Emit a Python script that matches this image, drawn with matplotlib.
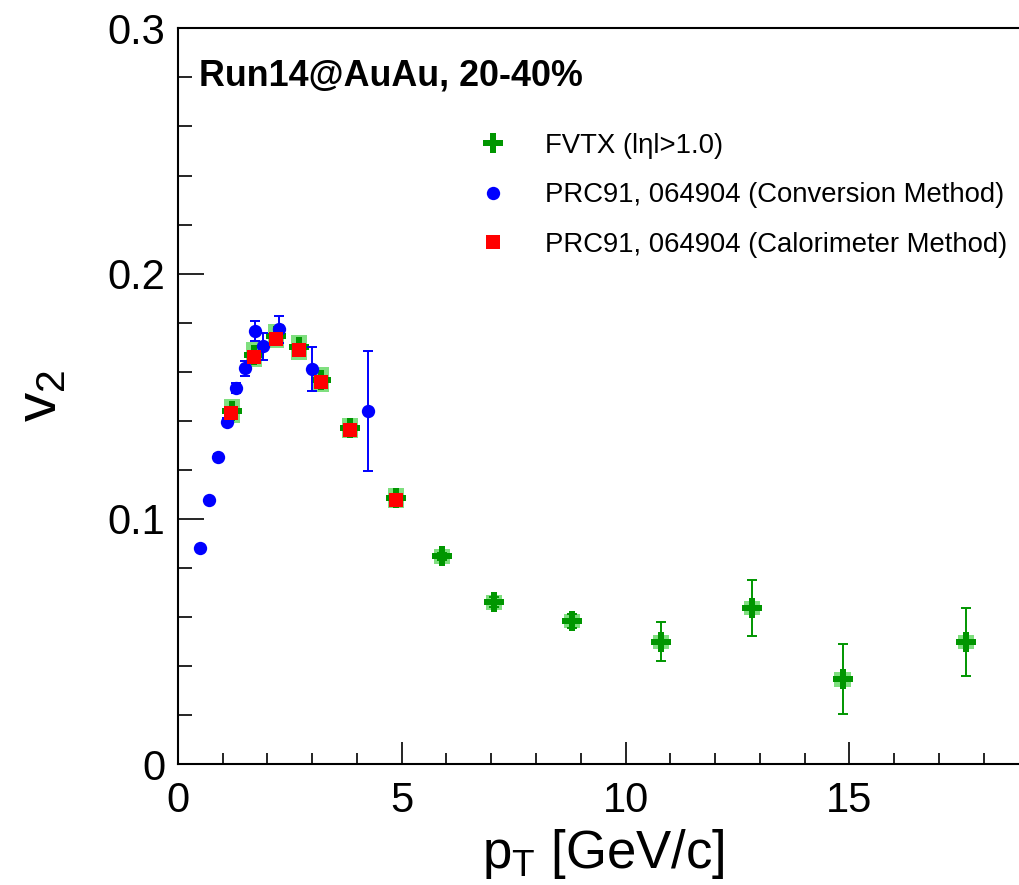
import matplotlib
matplotlib.use("Agg")
import matplotlib.pyplot as plt
from matplotlib.patches import Rectangle
from matplotlib.lines import Line2D
from matplotlib.ticker import MultipleLocator, FixedFormatter, FixedLocator

# FVTX (|eta|>1.0) v2 vs pT
fvtx_pt = [1.20, 1.70, 2.20, 2.70, 3.20, 3.85, 4.88, 5.90, 7.07, 8.80, 10.80, 12.82, 14.85, 17.60]
fvtx_v2 = [0.1440, 0.1670, 0.1745, 0.1700, 0.1568, 0.1370, 0.1085, 0.0848, 0.0660, 0.0584,
           0.0499, 0.0637, 0.0347, 0.0499]
fvtx_stat = [0.001, 0.001, 0.001, 0.001, 0.001, 0.001, 0.001, 0.0015, 0.002, 0.003,
             0.008, 0.0113, 0.0144, 0.0138]
fvtx_sys = [0.005, 0.005, 0.005, 0.005, 0.005, 0.004, 0.004, 0.003, 0.003, 0.003,
            0.003, 0.003, 0.003, 0.003]

# PRC91, 064904 - conversion method
conv_pt = [0.50, 0.70, 0.90, 1.10, 1.30, 1.50, 1.71, 1.91, 2.26, 3.00, 4.25]
conv_v2 = [0.0881, 0.1077, 0.1254, 0.1397, 0.1533, 0.1614, 0.1766, 0.1705, 0.1773, 0.1610, 0.1441]
conv_err = [0.001, 0.001, 0.001, 0.0015, 0.002, 0.003, 0.004, 0.0055, 0.0056, 0.009, 0.0245]

# PRC91, 064904 - calorimeter method
calo_pt = [1.18, 1.70, 2.20, 2.70, 3.20, 3.85, 4.88]
calo_v2 = [0.1433, 0.1659, 0.1734, 0.1689, 0.1557, 0.1363, 0.1077]

x_ticks = [0, 5, 10, 15]
x_labels = ["0", "5", "10", "15"]
y_ticks = [0, 0.1, 0.2, 0.3]
y_labels = ["0", "0.1", "0.2", "0.3"]

GREEN = "#009600"
GREEN_SYS = "#7fdf7f"
BLUE = "#0000ff"
RED = "#ff0000"
FONT = ["Liberation Sans", "DejaVu Sans"]

plt.rcParams["font.family"] = FONT

fig = plt.figure(figsize=(10.2, 8.85), dpi=100)
ax = fig.add_axes([0.1745, 0.1364, 0.8336, 0.8316])
ax.set_xlim(0, 19)
ax.set_ylim(0, 0.3)

# systematic boxes for FVTX
box_w = 0.36
for x, y, s in zip(fvtx_pt, fvtx_v2, fvtx_sys):
    ax.add_patch(Rectangle((x - box_w / 2, y - s), box_w, 2 * s,
                           facecolor=GREEN_SYS, edgecolor="none", zorder=2))

# statistical error bars (with caps), then the markers on top
ax.errorbar(fvtx_pt, fvtx_v2, yerr=fvtx_stat, fmt="none", ecolor=GREEN,
            elinewidth=1.4, capsize=3.5, capthick=1.4, zorder=3)
ax.plot(fvtx_pt, fvtx_v2, "P", color=GREEN, ms=15, mew=0, ls="none", zorder=3.1)

ax.errorbar(conv_pt, conv_v2, yerr=conv_err, fmt="none", ecolor=BLUE,
            elinewidth=1.4, capsize=3.5, capthick=1.4, zorder=4)
ax.plot(conv_pt, conv_v2, "o", color=BLUE, ms=9.6, mew=0, ls="none", zorder=4.1)

ax.plot(calo_pt, calo_v2, "s", color=RED, ms=10.4, mew=0, ls="none", zorder=5)

# axes styling
for side in ["left", "bottom", "top"]:
    ax.spines[side].set_linewidth(1.5)
ax.spines["right"].set_visible(False)

ax.xaxis.set_major_locator(FixedLocator(x_ticks))
ax.xaxis.set_major_formatter(FixedFormatter(x_labels))
ax.xaxis.set_minor_locator(MultipleLocator(1))
ax.yaxis.set_major_locator(FixedLocator(y_ticks))
ax.yaxis.set_major_formatter(FixedFormatter(y_labels))
ax.yaxis.set_minor_locator(MultipleLocator(0.02))

ax.tick_params(axis="x", which="major", direction="in", length=16, width=1.2,
               labelsize=30, pad=12, top=False)
ax.tick_params(axis="x", which="minor", direction="in", length=8, width=1.2, top=False)
ax.tick_params(axis="y", which="major", direction="in", length=19, width=1.2,
               labelsize=30, pad=9, right=False)
ax.tick_params(axis="y", which="minor", direction="in", length=10, width=1.2, right=False)

ax.set_xlabel(r"p$_\mathregular{T}$ [GeV/c]", fontsize=38, labelpad=4)
ax.set_ylabel(r"v$_\mathregular{2}$", fontsize=42, labelpad=28)

ax.text(0.025, 0.935, "Run14@AuAu, 20-40%", transform=ax.transAxes,
        fontsize=25.8, fontweight="bold", va="center", ha="left")

handles = [
    Line2D([], [], marker="P", color=GREEN, ls="none", ms=15, mew=0),
    Line2D([], [], marker="o", color=BLUE, ls="none", ms=9.6, mew=0),
    Line2D([], [], marker="s", color=RED, ls="none", ms=10.4, mew=0),
]
labels = ["FVTX (l\u03b7l>1.0)",
          "PRC91, 064904 (Conversion Method)",
          "PRC91, 064904 (Calorimeter Method)"]
ax.legend(handles, labels, loc="upper left", bbox_to_anchor=(0.338, 0.858),
          frameon=False, fontsize=19.8, handlelength=2.0, handletextpad=0.9,
          labelspacing=0.85, borderaxespad=0, borderpad=0)

fig.savefig("out.png", dpi=100)
